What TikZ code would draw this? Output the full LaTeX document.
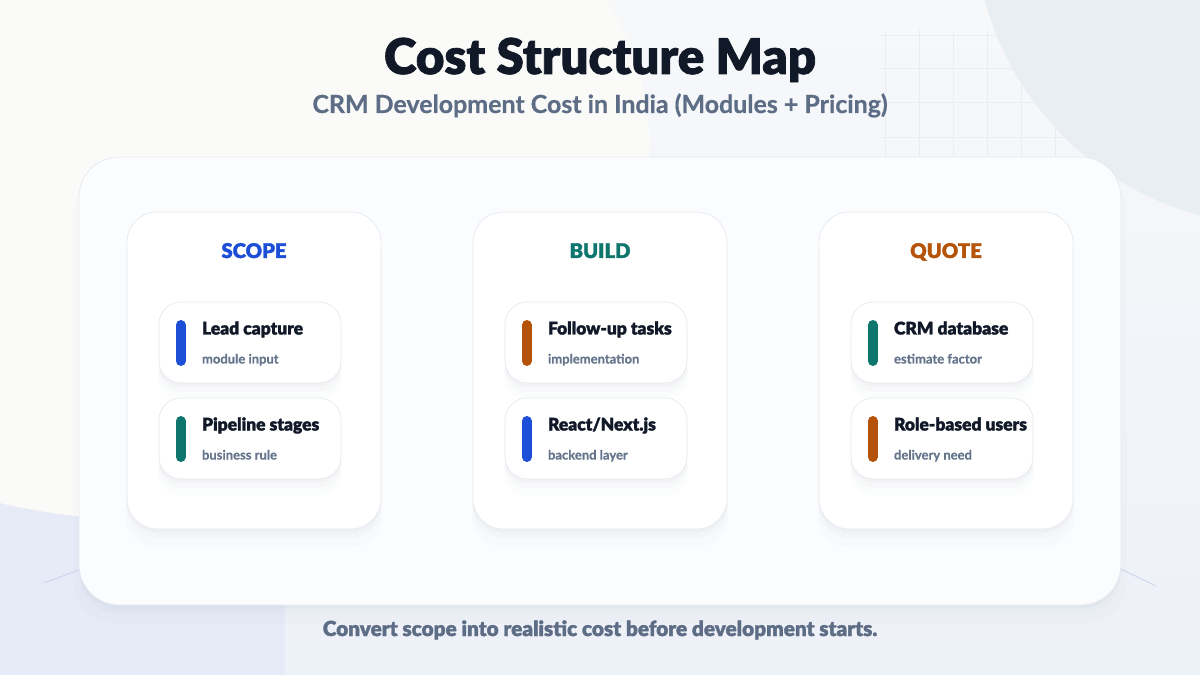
\documentclass[tikz,border=0pt]{standalone}
\usepackage{fontspec}
\setmainfont{Lato}
\newfontfamily\heavy{Lato Black}[FakeBold=1.6]
\newfontfamily\semi{Lato Bold}[FakeBold=0.6]
\usetikzlibrary{shadows, positioning, calc}
\definecolor{ink}{HTML}{111827}
\definecolor{slate}{HTML}{64748B}
\definecolor{subtle}{HTML}{5E6D86}
\definecolor{scopeblue}{HTML}{1D4ED8}
\definecolor{buildteal}{HTML}{0F766E}
\definecolor{quoteorange}{HTML}{B45309}
\definecolor{cardline}{HTML}{E6E9F0}
\definecolor{bgtop}{HTML}{F7F8FA}
\definecolor{bgbottom}{HTML}{EDF1F8}
\definecolor{warmwhite}{HTML}{FAFAF8}
\definecolor{lavender}{HTML}{E7EBF7}
\definecolor{bubble}{HTML}{E8EEF2}
\definecolor{gridc}{HTML}{EBEEF1}
\definecolor{strand}{HTML}{C5CFEA}
\definecolor{boardfill}{HTML}{FBFCFD}
\definecolor{shadec}{HTML}{3B4A6B}

\begin{document}
\begin{tikzpicture}[x=0.02cm, y=-0.02cm,
  soft/.style={drop shadow={shadow xshift=0pt, shadow yshift=-2pt, opacity=.025, fill=shadec},
               drop shadow={shadow xshift=0pt, shadow yshift=-5pt, opacity=.02, fill=shadec},
               drop shadow={shadow xshift=0pt, shadow yshift=-9pt, shadow scale=1.01, opacity=.015, fill=shadec}},
  board/.style={soft, draw=cardline, fill=boardfill, rounded corners=0.8cm, minimum width=20.84cm, minimum height=8.96cm},
  panel/.style={soft, draw=cardline, fill=white, rounded corners=0.6cm, minimum width=5.08cm, minimum height=6.34cm},
  item/.style={soft, draw=cardline, fill=white, rounded corners=0.44cm, minimum width=3.64cm, minimum height=1.62cm},
  head/.style={font=\heavy\fontsize{11.5}{13}\selectfont, anchor=base, inner sep=0pt},
  itemtitle/.style={font=\heavy\fontsize{9.9}{11}\selectfont, text=ink, anchor=base west, inner sep=0pt},
  itemnote/.style={font=\semi\fontsize{7.4}{8}\selectfont, text=slate, anchor=base west, inner sep=0pt},
  bar/.style={line width=0.2cm, line cap=round},
  gridline/.style={gridc, line width=0.4pt}
]
\useasboundingbox (0,0) rectangle (1200,675);
% background
\shade[top color=bgtop, bottom color=bgbottom] (0,0) rectangle (1200,675);
\fill[lavender] (0,300) rectangle (285,675);
\fill[warmwhite] (150,150) ellipse [x radius=500, y radius=370];
\fill[bubble] (1280,-80) circle [radius=306];
\foreach \gx in {885,919,953,987,1021,1055,1089} {
  \draw[gridline] (\gx,30) -- (\gx,160);
}
\foreach \gy in {35,68,102,137} {
  \draw[gridline] (880,\gy) -- (1120,\gy);
}
\draw[strand] (44,583) -- (160,540);
\draw[strand] (1040,530) -- (1156,586);

% heading
\node[font=\heavy\fontsize{28}{30}\selectfont, text=ink, anchor=base, inner sep=0pt] (title) at (600,74) {Cost Structure Map};
\node[font=\semi\fontsize{14.2}{16}\selectfont, text=subtle, anchor=base, inner sep=0pt] (subtitle) at (600,113) {CRM Development Cost in India (Modules + Pricing)};

% main card
\node[board] (board) at (600,381) {};

% columns
\foreach \col/\xc/\name/\hue/\ta/\na/\ca/\tb/\nb/\cb in {
  scope/254/SCOPE/scopeblue/Lead capture/module input/scopeblue/Pipeline stages/business rule/buildteal,
  build/600/BUILD/buildteal/Follow-up tasks/implementation/quoteorange/React\slash Next.js/backend layer/scopeblue,
  quote/946/QUOTE/quoteorange/CRM database/estimate factor/buildteal/Role-based users/delivery need/quoteorange} {
  \node[panel] (\col) at (\xc,370.5) {};
  \node[head, text=\hue] (\col-head) at (\xc,258) {\name};
  % first module
  \node[item] (\col-a) at (\xc-4,342.5) {};
  \draw[bar, \ca] ($(\col-a.west)+(22,-17.5)$) -- ($(\col-a.west)+(22,18.5)$);
  \node[itemtitle] (\col-a-title) at ($(\col-a.west)+(43,-8)$) {\ta};
  \node[itemnote] (\col-a-note) at ($(\col-a.west)+(43,21)$) {\na};
  % second module
  \node[item] (\col-b) at (\xc-4,438.5) {};
  \draw[bar, \cb] ($(\col-b.west)+(22,-17.5)$) -- ($(\col-b.west)+(22,18.5)$);
  \node[itemtitle] (\col-b-title) at ($(\col-b.west)+(43,-8)$) {\tb};
  \node[itemnote] (\col-b-note) at ($(\col-b.west)+(43,21)$) {\nb};
}

% footer
\node[font=\heavy\fontsize{11.8}{13}\selectfont, text=subtle, anchor=base, inner sep=0pt] (footer) at (600,636) {Convert scope into realistic cost before development starts.};
\end{tikzpicture}
\end{document}
